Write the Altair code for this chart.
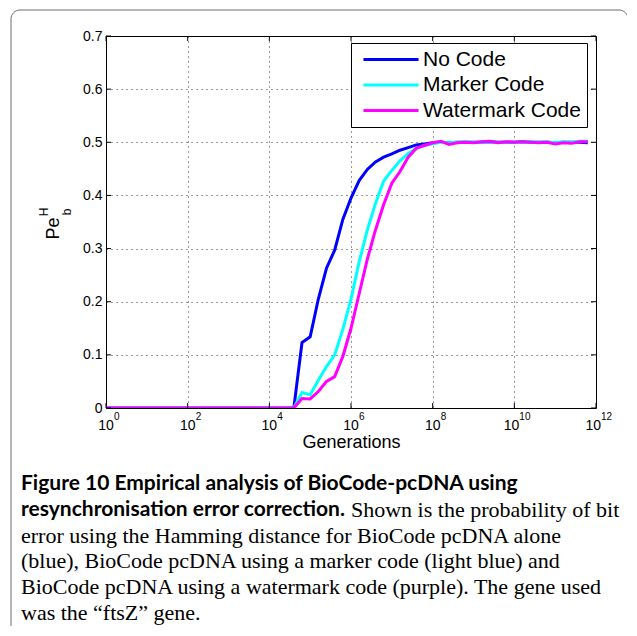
import altair as alt
import pandas as pd

# ---------------- data ----------------
series_names = ["No Code", "Marker Code", "Watermark Code"]
series_colors = ["#0000ff", "#00ffff", "#ff00ff"]

# generations given as powers of ten
gen_exponents = [0, 4.6, 4.8, 5.0, 5.2, 5.4, 5.6, 5.8, 6.0, 6.2, 6.4, 6.6, 6.8, 7.0, 7.2, 7.4, 7.6, 7.8, 8.0,
                 8.2, 8.4, 8.6, 8.8, 9.0, 9.2, 9.4, 9.6, 9.8, 10.0, 10.2, 10.4, 10.6, 10.8, 11.0, 11.2, 11.4, 11.6, 11.8]

no_code = [0, 0, 0.123, 0.134, 0.205, 0.263, 0.297, 0.355, 0.395, 0.428, 0.449, 0.463, 0.472, 0.478, 0.485,
           0.490, 0.495, 0.497, 0.499,
           0.500, 0.499, 0.500, 0.500, 0.500, 0.500, 0.501, 0.500, 0.500, 0.500, 0.501, 0.500, 0.500, 0.500,
           0.499, 0.500, 0.500, 0.500, 0.499]
marker_code = [0, 0, 0.029, 0.025, 0.052, 0.078, 0.100, 0.148, 0.205, 0.275, 0.335, 0.385, 0.427, 0.447, 0.465,
               0.479, 0.488, 0.494, 0.497,
               0.500, 0.499, 0.500, 0.501, 0.500, 0.500, 0.501, 0.500, 0.500, 0.500, 0.500, 0.501, 0.500, 0.501,
               0.499, 0.501, 0.500, 0.502, 0.502]
watermark_code = [0, 0, 0.018, 0.017, 0.031, 0.050, 0.059, 0.097, 0.150, 0.215, 0.280, 0.335, 0.383, 0.423, 0.445,
                  0.472, 0.489, 0.494, 0.499,
                  0.502, 0.496, 0.499, 0.500, 0.499, 0.501, 0.502, 0.499, 0.501, 0.500, 0.501, 0.500, 0.499, 0.500,
                  0.497, 0.499, 0.498, 0.501, 0.501]

x_label_exponents = [0, 2, 4, 6, 8, 10, 12]
x_grid_exponents = [2, 4, 6, 8, 10]
y_ticks = [0, 0.1, 0.2, 0.3, 0.4, 0.5, 0.6, 0.7]

caption_bold_1 = "Figure 10 Empirical analysis of BioCode-pcDNA using"
caption_bold_2 = "resynchronisation error correction."
caption_regular_2 = "Shown is the probability of bit"
caption_lines = [
    "error using the Hamming distance for BioCode pcDNA alone",
    "(blue), BioCode pcDNA using a marker code (light blue) and",
    "BioCode pcDNA using a watermark code (purple). The gene used",
    "was the \u201cftsZ\u201d gene.",
]

# ---------------- tables ----------------
rows = []
for name, vals in zip(series_names, [no_code, marker_code, watermark_code]):
    for e, v in zip(gen_exponents, vals):
        rows.append({"series": name, "gen": 10.0 ** e, "pe": v})
df = pd.DataFrame(rows)

xt = pd.DataFrame({"gen": [10.0 ** e for e in x_label_exponents],
                   "exp": [str(e) for e in x_label_exponents]})
xt1 = xt[xt["exp"].str.len() == 1]
xt2 = xt[xt["exp"].str.len() == 2]
yt = pd.DataFrame({"pe": y_ticks})

W, H = 490, 372
SANS = "Liberation Sans"
x_scale = alt.Scale(type="log", domain=[1, 1e12], nice=False)
y_scale = alt.Scale(domain=[0, 0.7], nice=False)

x_axis = alt.Axis(values=[10.0 ** e for e in x_grid_exponents], labels=False, ticks=False, tickSize=0,
                  domain=False, grid=True, gridColor="#000", gridDash=[1, 4], gridWidth=1, gridOpacity=0.8,
                  title="Generations", titleFont=SANS, titleFontSize=18, titleFontWeight="normal",
                  titleColor="#000", titlePadding=25)
y_axis = alt.Axis(values=y_ticks, ticks=False, tickSize=0, domain=False, grid=True, gridColor="#000",
                  gridDash=[1, 4], gridWidth=1, gridOpacity=0.8,
                  labelExpr="datum.value == 0 ? '0' : format(datum.value, '.1f')",
                  labelFont=SANS, labelFontSize=14, labelColor="#000", labelPadding=4, title=None)

lines = alt.Chart(df).mark_line(strokeWidth=3, clip=True).encode(
    x=alt.X("gen:Q", scale=x_scale, axis=x_axis),
    y=alt.Y("pe:Q", scale=y_scale, axis=y_axis),
    color=alt.Color("series:N", sort=series_names,
                    scale=alt.Scale(domain=series_names, range=series_colors),
                    legend=alt.Legend(title=None, orient="none", legendX=245, legendY=7,
                                      fillColor="#fff", strokeColor="#000", padding=6,
                                      symbolType="M-3.06,0L3.06,0", symbolSize=324, symbolStrokeWidth=3,
                                      symbolOffset=23.5, labelOffset=21.5, rowPadding=3.5,
                                      labelFont=SANS, labelFontSize=21, labelColor="#000")),
)

tick_b = alt.Chart(xt).mark_rule(color="#000", strokeWidth=1).encode(
    x=alt.X("gen:Q", scale=x_scale, axis=x_axis), y=alt.value(H), y2=alt.value(H - 5))
tick_t = alt.Chart(xt).mark_rule(color="#000", strokeWidth=1).encode(
    x=alt.X("gen:Q", scale=x_scale, axis=x_axis), y=alt.value(0), y2=alt.value(5))
tick_l = alt.Chart(yt).mark_rule(color="#000", strokeWidth=1).encode(
    y=alt.Y("pe:Q", scale=y_scale, axis=y_axis), x=alt.value(0), x2=alt.value(5))
tick_r = alt.Chart(yt).mark_rule(color="#000", strokeWidth=1).encode(
    y=alt.Y("pe:Q", scale=y_scale, axis=y_axis), x=alt.value(W), x2=alt.value(W - 5))

def x_label_layers(data, base_align, base_dx, exp_dx):
    base = alt.Chart(data).mark_text(font=SANS, fontSize=14, color="#000", align=base_align,
                                     baseline="middle", dx=base_dx).encode(
        x=alt.X("gen:Q", scale=x_scale, axis=x_axis), y=alt.value(390), text=alt.value("10"))
    sup = alt.Chart(data).mark_text(font=SANS, fontSize=10, color="#000", align="left",
                                    baseline="middle", dx=exp_dx).encode(
        x=alt.X("gen:Q", scale=x_scale, axis=x_axis), y=alt.value(381), text="exp:N")
    return [base, sup]

xl = x_label_layers(xt1, "center", 0, 8) + x_label_layers(xt2, "right", 5, 5)

one = alt.InlineData(values=[{"k": 1}])

def txt(s, x, y, size, angle=0, font=SANS, weight="normal", align="center"):
    return alt.Chart(one).mark_text(font=font, fontSize=size, fontWeight=weight, color="#000",
                                    align=align, baseline="middle", angle=angle).encode(
        x=alt.value(x), y=alt.value(y), text=alt.value(s))

ytitle = [txt("Pe", -52.5, 192.5, 18, angle=270),
          txt("H", -62.5, 176, 12, angle=270),
          txt("b", -39.5, 176, 12, angle=270)]

frame = alt.Chart(one).mark_rect(filled=False, stroke="#6f6f6f", strokeWidth=1, cornerRadius=9).encode(
    x=alt.value(-95), x2=alt.value(522), y=alt.value(-26), y2=alt.value(720))

BOLD = "Lato"
SERIF = "Liberation Serif"
cap_x = -85
cap_y0 = 448
cap_dy = 25.8
caption = [
    txt(caption_bold_1, cap_x, cap_y0, 21, font=BOLD, weight="bold", align="left"),
    txt(caption_bold_2, cap_x, cap_y0 + cap_dy, 21, font=BOLD, weight="bold", align="left"),
    txt(caption_regular_2, 245, cap_y0 + cap_dy, 22, font=SERIF, align="left"),
]
for i, s in enumerate(caption_lines):
    caption.append(txt(s, cap_x, cap_y0 + cap_dy * (i + 2), 22, font=SERIF, align="left"))

chart = alt.layer(frame, lines, tick_b, tick_t, tick_l, tick_r, *xl, *ytitle, *caption).properties(
    width=W, height=H,
    autosize=alt.AutoSizeParams(type="none"),
    padding={"left": 98, "top": 28, "right": 31, "bottom": 218},
    background="#ffffff",
).configure_view(stroke="#000", strokeWidth=1)

chart.save("out.html", embed_options={"renderer": "svg", "actions": False})
